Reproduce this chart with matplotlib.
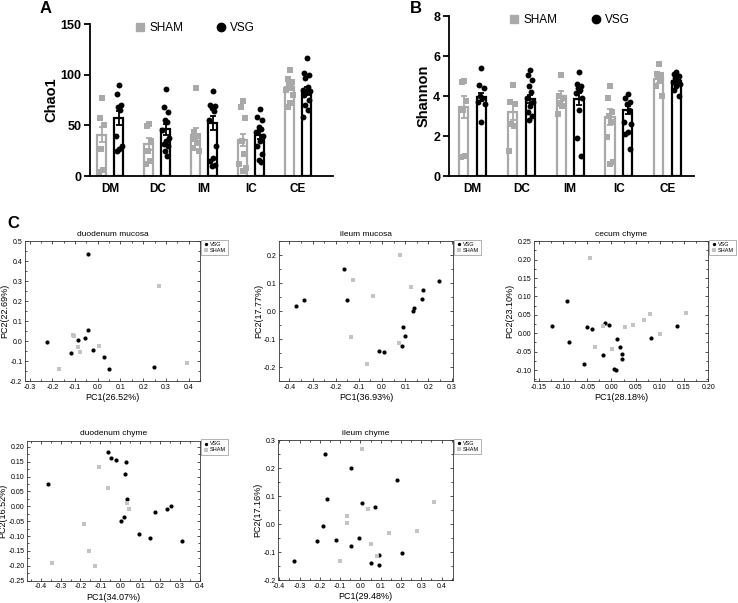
import numpy as np
import matplotlib.pyplot as plt
from matplotlib.lines import Line2D
from matplotlib.ticker import AutoMinorLocator, FormatStrFormatter, MultipleLocator

plt.rcParams['font.family'] = ['Liberation Sans', 'DejaVu Sans']

GREY = '#a9a9a9'
LIGHT = '#c4c4c4'

sites = ['DM', 'DC', 'IM', 'IC', 'CE']

# --- alpha diversity ---
chao_sham = [[77, 57, 50, 27, 6, 4],
             [51, 49, 35, 25, 15, 12],
             [87, 44, 40, 37, 33, 28, 25],
             [74, 68, 57, 35, 22, 12, 8, 5],
             [105, 96, 93, 90, 87, 85, 80, 72, 68]]
chao_vsg = [[90, 81, 70, 68, 65, 40, 30, 27, 25],
            [86, 68, 63, 55, 53, 45, 38, 35, 32, 30, 25, 20],
            [84, 70, 69, 67, 64, 55, 30, 18, 15, 11, 10],
            [66, 58, 55, 48, 46, 44, 40, 35, 30, 22, 16, 14],
            [117, 102, 100, 97, 88, 85, 84, 83, 80, 75, 70, 65, 58]]
chao_sham_mean = [41, 32, 41, 36, 88]
chao_sham_sem = [7, 6, 6, 6, 3]
chao_vsg_mean = [57, 46, 52, 41, 84]
chao_vsg_sem = [7, 5, 7, 4, 4]

shannon_sham = [[4.75, 4.7, 3.75, 3.3, 1.0, 0.95],
                [4.55, 3.7, 3.6, 2.6, 2.5, 1.25],
                [5.05, 4.0, 3.9, 3.6, 3.5, 3.1],
                [4.5, 3.9, 3.2, 3.0, 2.7, 1.95, 0.7, 0.6],
                [5.6, 5.1, 5.05, 4.95, 4.8, 4.5, 4.0]]
shannon_vsg = [[5.4, 4.55, 4.4, 4.0, 3.9, 3.7, 3.6, 2.7],
               [5.3, 5.05, 4.8, 4.5, 4.2, 3.9, 3.7, 3.5, 3.2, 3.0, 2.8],
               [5.2, 4.6, 4.5, 4.4, 4.3, 4.15, 3.9, 3.3, 1.9, 1.0],
               [4.1, 3.9, 3.7, 3.6, 3.3, 2.7, 2.6, 2.2, 2.1, 1.35],
               [5.2, 5.1, 5.0, 4.9, 4.8, 4.7, 4.6, 4.5, 4.3, 4.0]]
shannon_sham_mean = [3.45, 3.2, 4.0, 2.95, 4.85]
shannon_sham_sem = [0.55, 0.4, 0.25, 0.4, 0.2]
shannon_vsg_mean = [3.95, 3.85, 3.85, 3.3, 4.75]
shannon_vsg_sem = [0.2, 0.2, 0.3, 0.2, 0.1]

# --- PCoA scores ---
dmuc_vsg_x = [-0.041, -0.225, -0.088, -0.055, -0.041, -0.120, -0.019, 0.027, 0.048, 0.249]
dmuc_vsg_y = [0.437, -0.002, 0.004, 0.014, 0.054, -0.059, -0.042, -0.077, -0.139, -0.130]
dmuc_sham_x = [0.269, -0.110, -0.104, -0.085, -0.079, 0.005, -0.169, 0.394]
dmuc_sham_y = [0.276, 0.029, 0.024, -0.027, -0.054, -0.022, -0.137, -0.110]

imuc_vsg_x = [-0.370, -0.335, -0.165, -0.152, -0.012, 0.010, 0.085, 0.090, 0.100, 0.132, 0.140, 0.172, 0.176, 0.248]
imuc_vsg_y = [0.019, 0.039, 0.149, 0.039, -0.144, -0.145, -0.126, -0.057, -0.090, 0.001, 0.010, 0.045, 0.075, 0.108]
imuc_sham_x = [0.078, -0.126, -0.038, -0.133, -0.064, 0.074, 0.125]
imuc_sham_y = [0.202, 0.113, 0.055, -0.093, -0.190, -0.114, 0.086]

cec_vsg_x = [-0.122, -0.091, -0.087, -0.056, -0.050, -0.041, -0.018, -0.014, -0.004, 0.011, 0.018,
             0.022, 0.022, 0.005, 0.009, 0.081, 0.136]
cec_vsg_y = [0.021, 0.087, -0.024, -0.084, 0.018, 0.012, -0.059, 0.027, 0.023, -0.015, -0.037,
             -0.057, -0.069, -0.096, -0.099, -0.014, 0.019]
cec_sham_x = [-0.045, -0.034, -0.018, 0.001, 0.028, 0.045, 0.067, 0.080, 0.101, 0.155]
cec_sham_y = [0.205, -0.037, 0.020, -0.042, 0.018, 0.022, 0.035, 0.052, -0.003, 0.055]

dchy_vsg_x = [-0.365, -0.060, -0.047, -0.020, 0.027, 0.023, 0.033, 0.017, 0.005, 0.093, 0.147,
              0.172, 0.233, 0.253, 0.308]
dchy_vsg_y = [0.074, 0.182, 0.163, 0.155, 0.149, 0.109, 0.023, -0.036, -0.049, -0.092, -0.106,
              -0.019, -0.008, 0.002, -0.115]
dchy_sham_x = [-0.105, -0.063, 0.035, 0.045, -0.183, -0.157, -0.125, -0.342]
dchy_sham_y = [0.132, 0.062, 0.011, -0.009, -0.059, -0.151, -0.199, -0.191]

ichy_vsg_x = [-0.175, -0.048, 0.180, -0.167, 0.006, 0.073, -0.186, -0.214, -0.121, -0.009, -0.048,
              -0.326, 0.052, 0.093, 0.093, 0.203]
ichy_vsg_y = [0.249, 0.200, 0.157, 0.091, 0.074, 0.062, -0.005, -0.059, -0.057, -0.051, -0.077,
              -0.132, -0.138, -0.109, -0.145, -0.103]
ichy_sham_x = [0.007, -0.068, -0.065, 0.039, 0.139, 0.053, 0.083, -0.099, 0.278, 0.365]
ichy_sham_y = [0.269, 0.030, 0.004, 0.055, -0.032, -0.072, -0.114, -0.130, -0.024, 0.080]


def spread(n, step):
	pattern = np.array([0, -1, 1, -0.5, 0.5, -1.5, 1.5])
	return np.resize(pattern, n) * step


def bar_panel(ax, sham, vsg, sm, ss, vm, vs, ymax, ystep, ylabel, legx):
	x = np.arange(len(sites))
	off = 0.18
	w = 0.19
	ax.bar(x - off, sm, w, color='white', edgecolor=GREY, linewidth=1.6, zorder=2)
	ax.bar(x + off, vm, w, color='white', edgecolor='black', linewidth=1.6, zorder=2)
	ax.errorbar(x - off, sm, yerr=ss, fmt='none', ecolor=GREY, elinewidth=1.3, capsize=2.5, capthick=1.3, zorder=3)
	ax.errorbar(x + off, vm, yerr=vs, fmt='none', ecolor='black', elinewidth=1.3, capsize=2.5, capthick=1.3, zorder=3)
	for i in range(len(sites)):
		p = np.array(sham[i])
		ax.scatter(x[i] - off + spread(len(p), 0.045), p, marker='s', s=16, color=GREY, linewidths=0, zorder=4)
		p = np.array(vsg[i])
		ax.scatter(x[i] + off + spread(len(p), 0.045), p, marker='o', s=18, color='black', linewidths=0, zorder=4)
	ax.set_ylim(0, ymax)
	ax.yaxis.set_major_locator(MultipleLocator(ystep))
	ax.set_xticks(x)
	ax.set_xticklabels(sites, fontweight='bold', fontsize=8.5)
	for lab in ax.get_yticklabels():
		lab.set_fontweight('bold')
		lab.set_fontsize(9)
	ax.spines['top'].set_visible(False)
	ax.spines['right'].set_visible(False)
	ax.spines['left'].set_linewidth(1.3)
	ax.spines['bottom'].set_linewidth(1.3)
	ax.tick_params(axis='y', width=1.3, length=4, pad=2)
	ax.tick_params(axis='x', length=0, pad=5)
	ax.set_ylabel(ylabel, fontweight='bold', fontsize=10.5)
	handles = [Line2D([], [], marker='s', color=GREY, linestyle='none', markersize=5.5),
	           Line2D([], [], marker='o', color='black', linestyle='none', markersize=6)]
	ax.legend(handles, ['SHAM', 'VSG'], ncol=2, frameon=False, fontsize=8.5, loc='center',
	          bbox_to_anchor=(legx, 0.975), columnspacing=2.7, handletextpad=0.3, handlelength=1.0)


def pca_panel(ax, title, vx, vy, sx, sy, xlim, ylim, xstep, ystep, xfmt, yfmt, xlabel, ylabel):
	ax.scatter(vx, vy, s=9, marker='o', color='black', linewidths=0, label='VSG', zorder=3)
	ax.scatter(sx, sy, s=8, marker='s', color=LIGHT, linewidths=0, label='SHAM', zorder=3)
	ax.set_xlim(*xlim)
	ax.set_ylim(*ylim)
	ax.xaxis.set_major_locator(MultipleLocator(xstep))
	ax.yaxis.set_major_locator(MultipleLocator(ystep))
	ax.xaxis.set_minor_locator(AutoMinorLocator(2))
	ax.yaxis.set_minor_locator(AutoMinorLocator(2))
	ax.xaxis.set_major_formatter(FormatStrFormatter(xfmt))
	ax.yaxis.set_major_formatter(FormatStrFormatter(yfmt))
	ax.tick_params(which='both', direction='in', top=True, right=True, labelsize=5, width=0.6, color='#333333', pad=2)
	ax.tick_params(which='major', length=2.5)
	ax.tick_params(which='minor', length=1.5)
	for sp in ax.spines.values():
		sp.set_linewidth(0.6)
		sp.set_color('#333333')
	ax.set_title(title, fontsize=6, pad=4)
	ax.set_xlabel(xlabel, fontsize=6.5, labelpad=1.5)
	ax.set_ylabel(ylabel, fontsize=6.5, labelpad=0.5)
	leg = ax.legend(loc='upper left', bbox_to_anchor=(1.003, 1.012), fontsize=4, frameon=True, fancybox=False,
	                borderpad=0.4, handletextpad=0.3, handlelength=1.0, labelspacing=0.2, markerscale=0.8,
	                borderaxespad=0)
	leg.get_frame().set_linewidth(0.5)
	leg.get_frame().set_edgecolor('#777777')


def main():
	fig = plt.figure(figsize=(7.38, 6.03), dpi=100)

	axA = fig.add_axes([0.122, 0.708, 0.329, 0.252])
	bar_panel(axA, chao_sham, chao_vsg, chao_sham_mean, chao_sham_sem, chao_vsg_mean, chao_vsg_sem,
	          150, 50, 'Chao1', 0.43)
	axA.set_xlim(-0.43, 4.74)
	axA.yaxis.set_label_coords(-0.13, 0.5)

	axB = fig.add_axes([0.608, 0.708, 0.333, 0.265])
	bar_panel(axB, shannon_sham, shannon_vsg, shannon_sham_mean, shannon_sham_sem, shannon_vsg_mean,
	          shannon_vsg_sem, 8, 2, 'Shannon', 0.49)
	axB.set_xlim(-0.49, 4.55)
	axB.yaxis.set_label_coords(-0.075, 0.5)

	fig.text(0.053, 0.986, 'A', fontsize=12, fontweight='bold', ha='left', va='center')
	fig.text(0.556, 0.986, 'B', fontsize=12, fontweight='bold', ha='left', va='center')
	fig.text(0.01, 0.630, 'C', fontsize=12, fontweight='bold', ha='left', va='center')

	ax1 = fig.add_axes([0.034, 0.368, 0.237, 0.232])
	pca_panel(ax1, 'duodenum mucosa', dmuc_vsg_x, dmuc_vsg_y, dmuc_sham_x, dmuc_sham_y,
	          (-0.32, 0.45), (-0.2, 0.5), 0.1, 0.1, '%.1f', '%.1f', 'PC1(26.52%)', 'PC2(22.69%)')
	ax2 = fig.add_axes([0.378, 0.368, 0.236, 0.232])
	pca_panel(ax2, 'ileum mucosa', imuc_vsg_x, imuc_vsg_y, imuc_sham_x, imuc_sham_y,
	          (-0.445, 0.307), (-0.25, 0.25), 0.1, 0.1, '%.1f', '%.1f', 'PC1(36.93%)', 'PC2(17.77%)')
	ax3 = fig.add_axes([0.7236, 0.368, 0.236, 0.232])
	pca_panel(ax3, 'cecum chyme', cec_vsg_x, cec_vsg_y, cec_sham_x, cec_sham_y,
	          (-0.16, 0.20), (-0.13, 0.25), 0.05, 0.05, '%.2f', '%.2f', 'PC1(28.18%)', 'PC2(23.10%)')
	ax4 = fig.add_axes([0.037, 0.037, 0.234, 0.232])
	pca_panel(ax4, 'duodenum chyme', dchy_vsg_x, dchy_vsg_y, dchy_sham_x, dchy_sham_y,
	          (-0.467, 0.4), (-0.25, 0.22), 0.1, 0.05, '%.1f', '%.2f', 'PC1(34.07%)', 'PC2(16.52%)')
	ax5 = fig.add_axes([0.377, 0.038, 0.237, 0.232])
	pca_panel(ax5, 'ileum chyme', ichy_vsg_x, ichy_vsg_y, ichy_sham_x, ichy_sham_y,
	          (-0.405, 0.457), (-0.2, 0.3), 0.1, 0.1, '%.1f', '%.1f', 'PC1(29.48%)', 'PC2(17.16%)')

	fig.savefig('out.png', dpi=100)


if __name__ == '__main__':
	main()
